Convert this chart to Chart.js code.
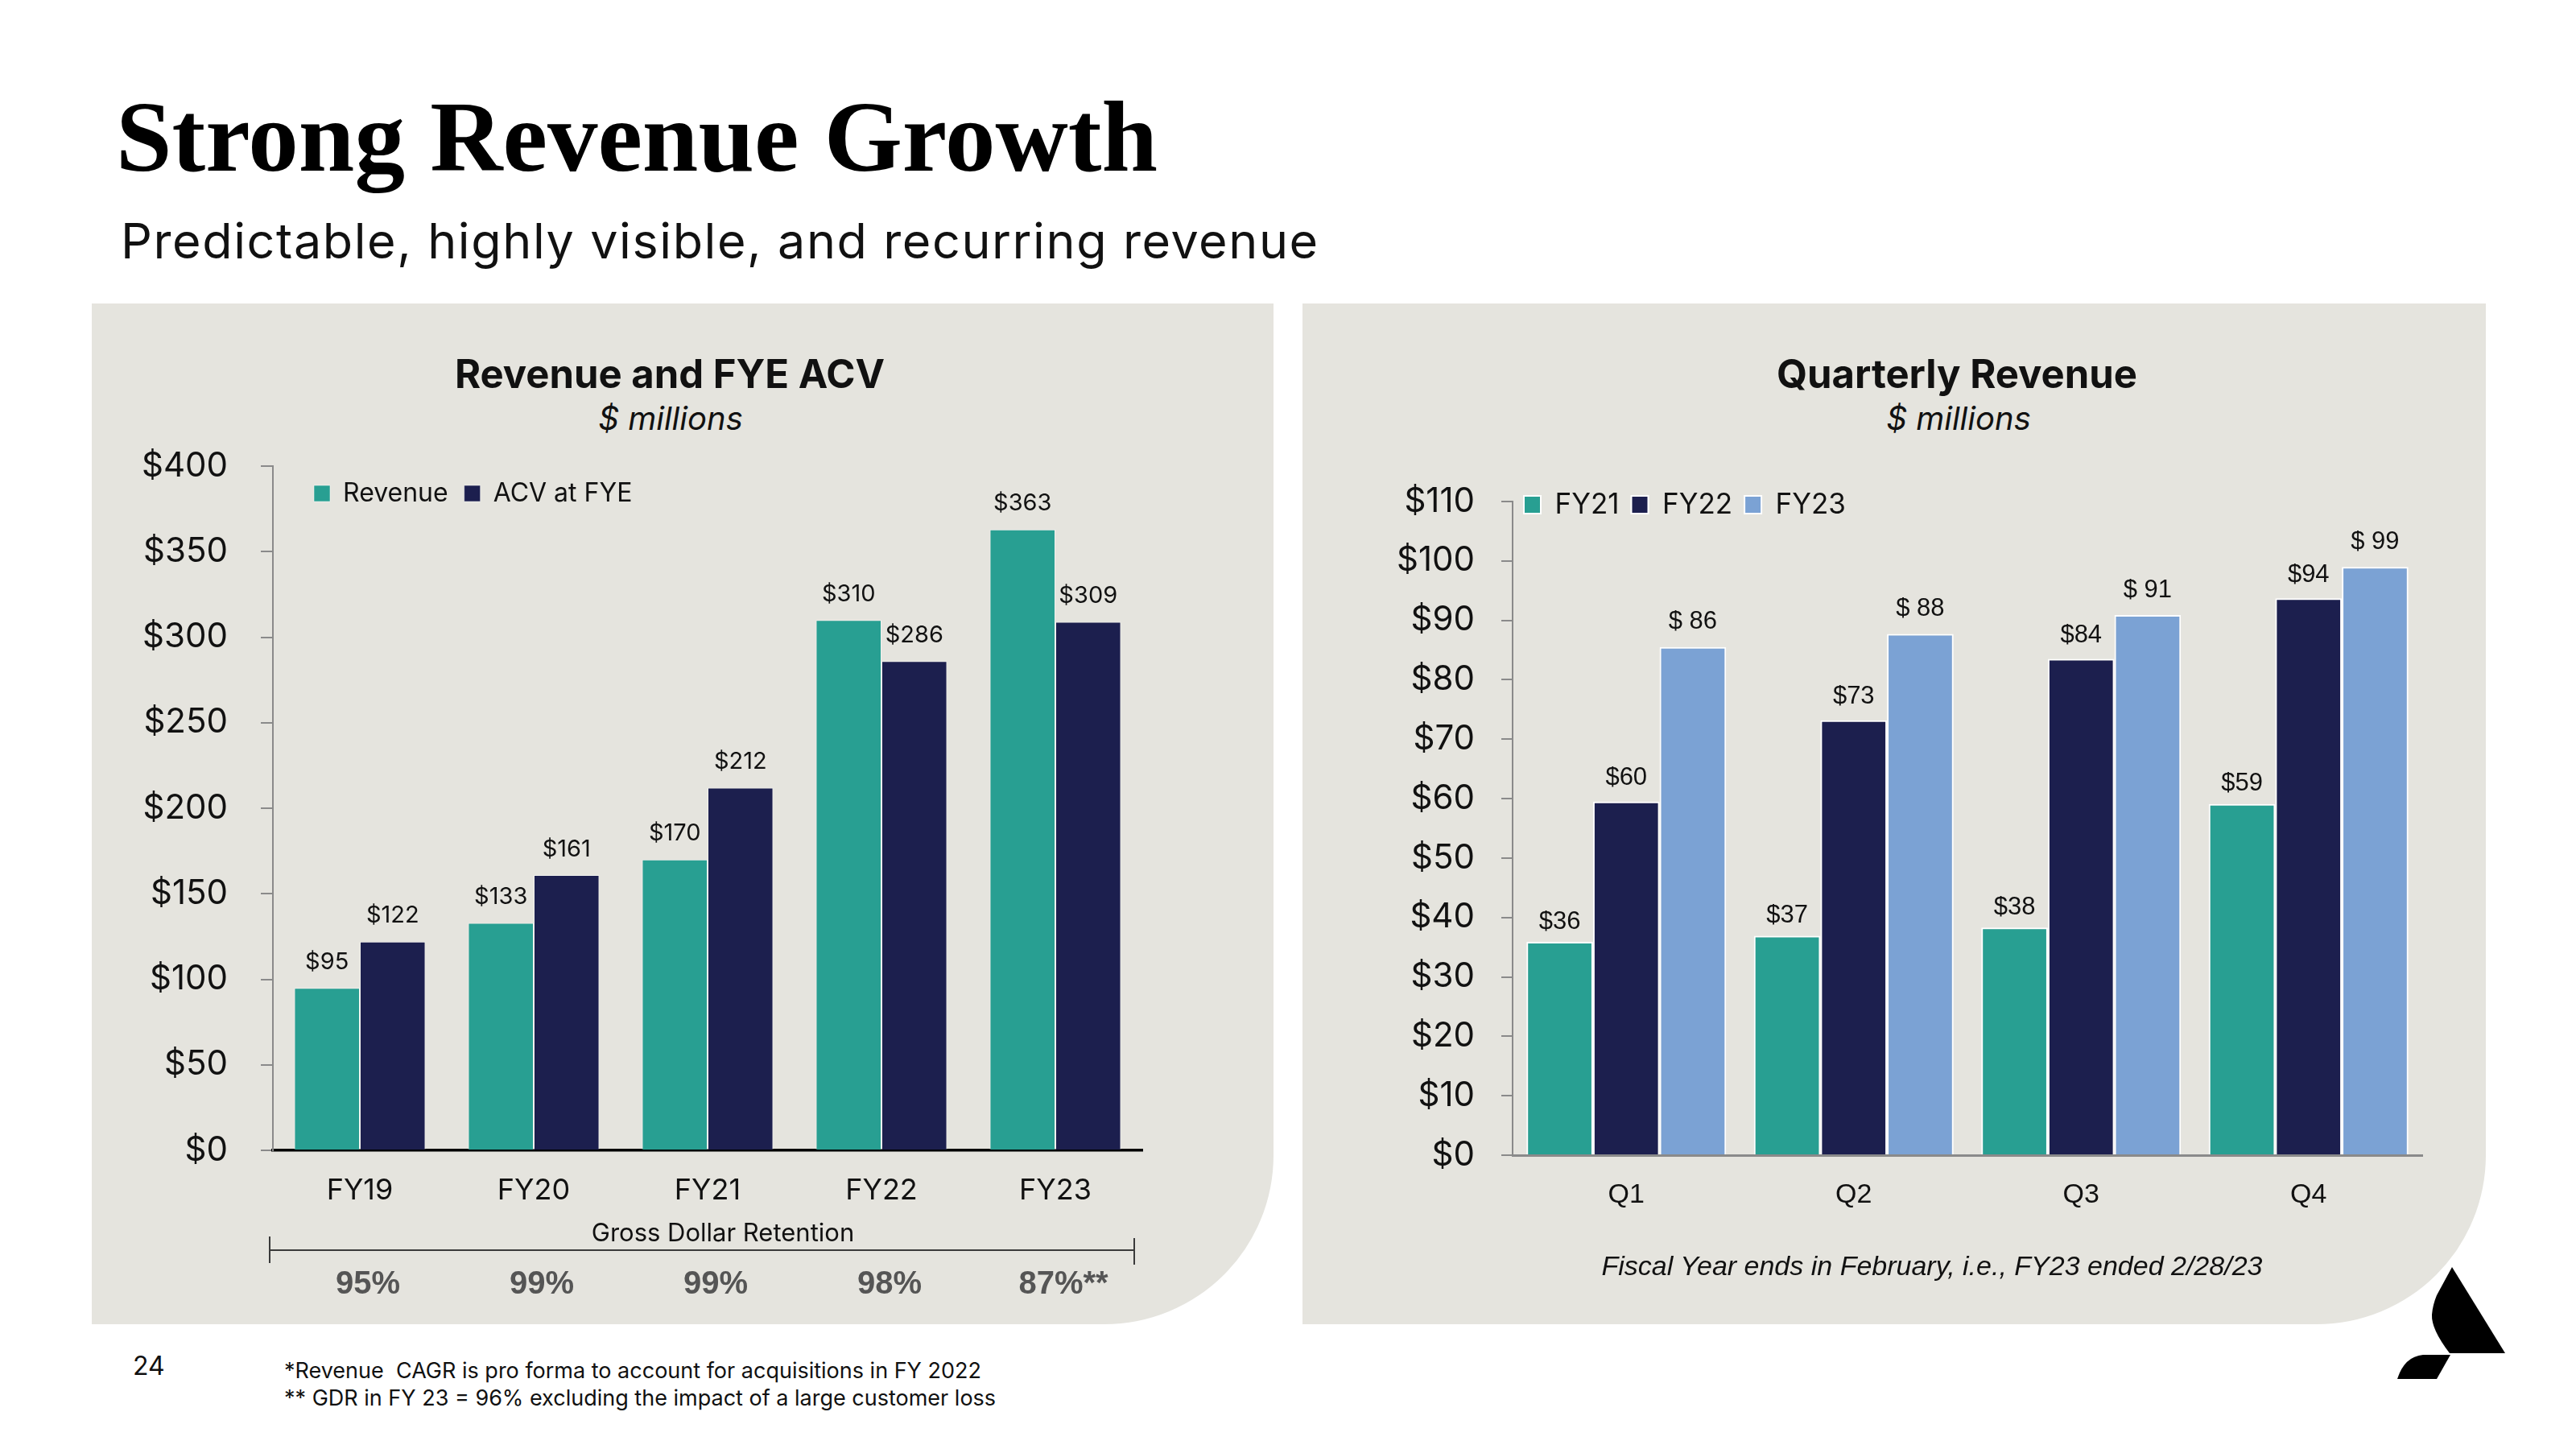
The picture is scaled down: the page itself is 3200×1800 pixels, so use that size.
<!DOCTYPE html>
<html>
<head>
<meta charset="utf-8">
<script src="https://cdn.jsdelivr.net/npm/chart.js@4.4.0/dist/chart.umd.min.js"></script>
<style>
  body { margin: 0; width: 3200px; height: 1800px; background: #fff; position: relative; overflow: hidden; font-family: Inter, sans-serif; color: #111; }
  .abs { position: absolute; white-space: nowrap; line-height: 1; }
  .c { transform: translate(-50%, -50%); }
  .panel { position: absolute; background: #e5e4de; border-bottom-right-radius: 210px; }
  canvas { position: absolute; }
</style>
</head>
<body>
  <div class="abs" style="left:144px; top:99px; font:700 125px 'Liberation Serif'; color:#000;">Strong Revenue Growth</div>
  <div class="abs" style="left:150px; top:262px; font:400 61px Inter; letter-spacing:1.6px;">Predictable, highly visible, and recurring revenue</div>

  <div class="panel" style="left:114px; top:377px; width:1468px; height:1268px;"></div>
  <div class="panel" style="left:1618px; top:377px; width:1470px; height:1268px;"></div>

  <div class="abs c" style="left:832px; top:464px; font:700 49px Inter;">Revenue and FYE ACV</div>
  <div class="abs c" style="left:833px; top:519px; font:italic 400 40px Inter;">$ millions</div>
  <div class="abs c" style="left:2431px; top:464px; font:700 49px Inter;">Quarterly Revenue</div>
  <div class="abs c" style="left:2433px; top:519px; font:italic 400 40px Inter;">$ millions</div>

  <canvas id="revChart" width="1468" height="1268" style="left:114px; top:377px;"></canvas>
  <canvas id="qtrChart" width="1470" height="1268" style="left:1618px; top:377px;"></canvas>

  <div class="abs c" style="left:2400px; top:1572px; font:italic 400 34px 'Liberation Sans';">Fiscal Year ends in February, i.e., FY23 ended 2/28/23</div>

  <div class="abs" style="left:165px; top:1677px; font:400 32px Inter;">24</div>
  <div class="abs" style="left:353px; top:1686px; font:400 27px Inter;">*Revenue&nbsp; CAGR is pro forma to account for acquisitions in FY 2022</div>
  <div class="abs" style="left:353px; top:1720px; font:400 27px Inter;">** GDR in FY 23 = 96% excluding the impact of a large customer loss</div>

  <svg class="abs" style="left:2970px; top:1565px;" width="150" height="160" viewBox="0 0 150 160">
    <path d="M76,9 L142,116 L73,116 Q50,86 51,68 Q52,56 57,44 Z" fill="#000"/>
    <path d="M74,118 L57,148 L8,148 Q17,120 40,118 Z" fill="#000"/>
  </svg>

<script>
  // left chart
  const fyLabels = ['FY19', 'FY20', 'FY21', 'FY22', 'FY23'];
  const revenue = [95, 133, 170, 310, 363];
  const acvAtFye = [122, 161, 212, 286, 309];
  const gdrLabels = ['95%', '99%', '99%', '98%', '87%**'];

  // right chart (bar heights, labels are the rounded values)
  const quarters = ['Q1', 'Q2', 'Q3', 'Q4'];
  const fy21 = [35.9, 36.9, 38.3, 59.1];
  const fy22 = [59.5, 73.2, 83.5, 93.7];
  const fy23 = [85.5, 87.7, 90.9, 99.0];

  const TEAL = '#289f92';
  const NAVY = '#1c1f4e';
  const LIGHT = '#7ba2d4';

  Chart.defaults.font.family = 'Inter';
  Chart.defaults.color = '#111';

  // value labels above every bar
  function makeValueLabels(font, offsets, format) {
    return {
      id: 'valueLabels',
      afterDatasetsDraw(chart) {
        const ctx = chart.ctx;
        ctx.save();
        ctx.font = font;
        ctx.fillStyle = '#111';
        ctx.textAlign = 'center';
        ctx.textBaseline = 'middle';
        chart.data.datasets.forEach((ds, i) => {
          chart.getDatasetMeta(i).data.forEach((bar, j) => {
            ctx.fillText(format(i, ds.data[j]), bar.x, bar.y - offsets[i]);
          });
        });
        ctx.restore();
      }
    };
  }

  // the legend is laid out on top, then moved inside the plot:
  // first box at chartArea.left + ox, text middle at chartArea.top + oy
  function makeLegendInside(ox, oy) {
    return {
      id: 'legendInside',
      afterLayout(chart) {
        const lg = chart.legend;
        const lab = lg.options.labels;
        const fs = lab.font.size;
        const itemH = Math.max(fs, lab.boxHeight);
        const w = lg.width, h = lg.height;
        lg.left = chart.chartArea.left + ox - lab.padding;
        lg.right = lg.left + w;
        lg.top = chart.chartArea.top + oy - lab.padding - itemH / 2;
        lg.bottom = lg.top + h;
      }
    };
  }

  // gross dollar retention row under the FY axis
  const gdrRow = {
    id: 'gdrRow',
    afterDraw(chart) {
      const ctx = chart.ctx;
      const area = chart.chartArea;
      const x = chart.scales.x;
      const lineY = area.bottom + 124;
      const x0 = area.left - 4, x1 = area.right - 10;
      ctx.save();
      ctx.strokeStyle = '#3a3a3a';
      ctx.lineWidth = 2;
      ctx.beginPath();
      ctx.moveTo(x0, lineY); ctx.lineTo(x1, lineY);
      ctx.moveTo(x0, lineY - 17); ctx.lineTo(x0, lineY + 16);
      ctx.moveTo(x1, lineY - 15); ctx.lineTo(x1, lineY + 18);
      ctx.stroke();
      ctx.textAlign = 'center';
      ctx.textBaseline = 'middle';
      ctx.fillStyle = '#111';
      ctx.font = '400 31px Inter';
      ctx.fillText('Gross Dollar Retention', (area.left + area.right) / 2 + 19, lineY - 20);
      ctx.fillStyle = '#555';
      ctx.font = '700 40px "Liberation Sans"';
      gdrLabels.forEach((t, i) => {
        ctx.fillText(t, x.getPixelForValue(i) + 10, lineY + 43);
      });
      ctx.restore();
    }
  };

  new Chart(document.getElementById('revChart'), {
    type: 'bar',
    data: {
      labels: fyLabels,
      datasets: [
        { label: 'Revenue', data: revenue, backgroundColor: TEAL, borderColor: 'rgba(255,255,255,0.5)', borderWidth: 1 },
        { label: 'ACV at FYE', data: acvAtFye, backgroundColor: NAVY, borderColor: 'rgba(255,255,255,0.5)', borderWidth: 1 }
      ]
    },
    options: {
      responsive: false,
      animation: false,
      // legend height = 32 + 20 + 10 = 62, so the plot starts at 140 + 62
      layout: { padding: { top: 140, right: 163, left: 0, bottom: 0 } },
      datasets: { bar: { categoryPercentage: 0.755, barPercentage: 1 } },
      plugins: {
        legend: {
          position: 'top',
          align: 'start',
          labels: { boxWidth: 20, boxHeight: 20, padding: 20, font: { size: 32 }, color: '#111' }
        },
        tooltip: { enabled: false }
      },
      scales: {
        x: {
          grid: { display: false, drawTicks: false },
          border: { color: '#000', width: 3.5 },
          ticks: { padding: 29, font: { size: 36 }, color: '#111' },
          afterFit: (s) => { s.height = 216; }
        },
        y: {
          min: 0,
          max: 400,
          ticks: { stepSize: 50, padding: 41, font: { size: 42 }, color: '#111', callback: (v) => '$' + v },
          grid: { drawOnChartArea: false, tickLength: 15, color: '#8a8a8a', lineWidth: 2 },
          border: { color: '#8a8a8a', width: 2 },
          afterFit: (s) => { s.width = 225; }
        }
      }
    },
    plugins: [
      makeValueLabels('400 29px Inter', [32, 32], (i, v) => '$' + v),
      makeLegendInside(51, 34),
      gdrRow
    ]
  });

  new Chart(document.getElementById('qtrChart'), {
    type: 'bar',
    data: {
      labels: quarters,
      datasets: [
        { label: 'FY21', data: fy21, backgroundColor: TEAL, borderColor: '#fff', borderWidth: 2 },
        { label: 'FY22', data: fy22, backgroundColor: NAVY, borderColor: '#fff', borderWidth: 2 },
        { label: 'FY23', data: fy23, backgroundColor: LIGHT, borderColor: '#fff', borderWidth: 2 }
      ]
    },
    options: {
      responsive: false,
      animation: false,
      // legend height = 35 + 15 + 10 = 60, so the plot starts at 186 + 60
      layout: { padding: { top: 186, right: 79, left: 0, bottom: 0 } },
      datasets: { bar: { categoryPercentage: 0.878, barPercentage: 1 } },
      plugins: {
        legend: {
          position: 'top',
          align: 'start',
          labels: { boxWidth: 21, boxHeight: 22, padding: 15, font: { size: 35 }, color: '#111' }
        },
        tooltip: { enabled: false }
      },
      scales: {
        x: {
          grid: { display: false, drawTicks: false },
          border: { color: '#8a8a8a', width: 3 },
          ticks: { padding: 29, font: { size: 34, family: 'Liberation Sans' }, color: '#111' },
          afterFit: (s) => { s.height = 210; }
        },
        y: {
          min: 0,
          max: 110,
          ticks: { stepSize: 10, padding: 33, font: { size: 42 }, color: '#111', callback: (v) => '$' + v },
          grid: { drawOnChartArea: false, tickLength: 14, color: '#8a8a8a', lineWidth: 2 },
          border: { color: '#8a8a8a', width: 2 },
          afterFit: (s) => { s.width = 261; }
        }
      }
    },
    plugins: [
      makeValueLabels('400 31px "Liberation Sans"', [25, 29, 31], (i, v) => (i === 2 ? '$ ' : '$') + Math.round(v)),
      makeLegendInside(14, 4)
    ]
  });
</script>
</body>
</html>
